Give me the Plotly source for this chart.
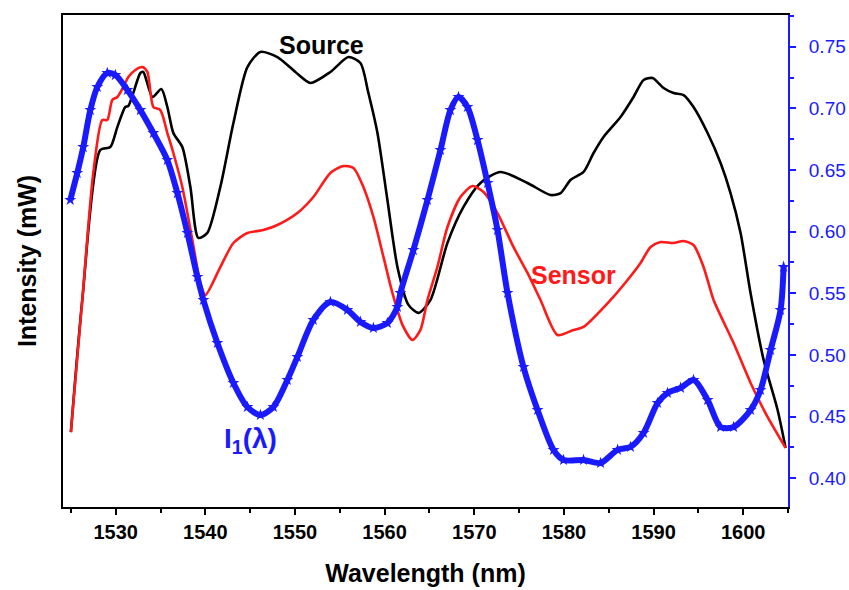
import plotly.graph_objects as go

# Source (black)
src_x = [1525.0, 1526.27, 1528.28, 1529.40, 1530.18, 1531.07, 1531.41, 1531.96, 1532.75, 1533.08,
         1534.1, 1535.09, 1535.76, 1536.43, 1537.43, 1538.33, 1539.22, 1540.22, 1541.67, 1543.13,
         1544.69, 1546.14, 1548.04, 1550.04, 1551.72, 1553.95, 1555.96, 1557.30, 1558.19, 1559.20,
         1560.31, 1561.43, 1562.66, 1563.78, 1565.12, 1567.01, 1568.80, 1570.69, 1572.93, 1575.94,
         1578.51, 1579.63, 1580.74, 1582.19, 1583.31, 1584.42, 1586.32, 1587.77, 1588.89, 1589.89,
         1591.12, 1592.23, 1593.35, 1594.46, 1596.03, 1597.48, 1598.59, 1599.71, 1600.82, 1602.28,
         1603.84, 1604.73]
src_y = [0.4375, 0.5445, 0.6662, 0.6686, 0.6848, 0.7011, 0.7019, 0.7124, 0.7287, 0.7295,
         0.7092, 0.7157, 0.7011, 0.6800, 0.6686, 0.6362, 0.5949, 0.5990, 0.6362, 0.6881,
         0.7335, 0.7457, 0.7416, 0.7295, 0.7206, 0.7295, 0.7416, 0.7368, 0.7124, 0.6800,
         0.6257, 0.5714, 0.5406, 0.5341, 0.5447, 0.5909, 0.6201, 0.6395, 0.6484, 0.6395,
         0.6297, 0.6313, 0.6419, 0.6484, 0.6638, 0.6768, 0.6930, 0.7092, 0.7230, 0.7246,
         0.7165, 0.7124, 0.7108, 0.7011, 0.6800, 0.6557, 0.6313, 0.5989, 0.5503, 0.4960,
         0.4554, 0.4246]

# Sensor (red)
sen_x = [1525.0, 1526.27, 1527.50, 1528.50, 1529.06, 1529.62, 1530.18, 1530.85, 1531.41, 1532.19,
         1532.97, 1533.53, 1534.20, 1534.98, 1535.76, 1536.43, 1537.43, 1538.55, 1539.44, 1540.00,
         1541.67, 1543.13, 1544.69, 1546.47, 1548.04, 1550.27, 1552.05, 1553.95, 1555.40, 1556.52,
         1557.63, 1558.75, 1559.87, 1560.87, 1561.99, 1563.10, 1564.0, 1564.78, 1565.89, 1567.01,
         1568.46, 1569.80, 1571.03, 1572.59, 1574.37, 1575.94, 1577.39, 1579.29, 1581.08, 1582.19,
         1585.21, 1587.10, 1588.55, 1589.67, 1590.78, 1592.23, 1593.35, 1594.46, 1595.58, 1596.70,
         1598.93, 1600.83, 1602.72, 1604.73]
sen_y = [0.4375, 0.5445, 0.6476, 0.6905, 0.6905, 0.7068, 0.7092, 0.7173, 0.7254, 0.7311,
         0.7335, 0.7295, 0.7011, 0.6986, 0.6800, 0.6638, 0.6362, 0.5932, 0.5584, 0.5486,
         0.5713, 0.5908, 0.5989, 0.6013, 0.6054, 0.6151, 0.6281, 0.6476, 0.6532, 0.6516,
         0.6362, 0.6119, 0.5795, 0.5503, 0.5244, 0.5122, 0.5203, 0.5446, 0.5714, 0.6038,
         0.6281, 0.6370, 0.6322, 0.6151, 0.5876, 0.5665, 0.5446, 0.5162, 0.5203, 0.5227,
         0.5446, 0.5608, 0.5746, 0.5876, 0.5916, 0.5908, 0.5924, 0.5892, 0.5714, 0.5446,
         0.5097, 0.4773, 0.4497, 0.4246]

# I1(lambda) (blue, right axis)
i1_x = [1524.93, 1525.71, 1526.38, 1527.17, 1527.95, 1529.06, 1529.96, 1531.30, 1532.75, 1534.20,
        1535.76, 1536.88, 1538.00, 1539.11, 1539.78, 1541.34, 1543.13, 1544.69, 1546.14, 1547.59,
        1549.15, 1550.27, 1552.05, 1553.95, 1555.85, 1557.30, 1558.75, 1560.31, 1561.43, 1561.76,
        1563.21, 1564.78, 1566.23, 1567.34, 1568.24, 1569.24, 1570.36, 1571.48, 1572.59, 1573.71,
        1575.49, 1577.06, 1578.84, 1579.96, 1582.19, 1584.09, 1585.99, 1587.43, 1588.89, 1590.45,
        1591.56, 1593.02, 1594.46, 1596.03, 1597.48, 1598.93, 1600.83, 1601.94, 1603.06, 1604.17,
        1604.51]
i1_y = [0.6257, 0.6476, 0.6686, 0.6986, 0.7173, 0.7287, 0.7270, 0.7149, 0.6986, 0.6800,
        0.6581, 0.6313, 0.5989, 0.5633, 0.5446, 0.5097, 0.4773, 0.4578, 0.4513, 0.4578,
        0.4797, 0.4984, 0.5284, 0.5430, 0.5365, 0.5268, 0.5219, 0.5259, 0.5389, 0.5503,
        0.5851, 0.6257, 0.6662, 0.6986, 0.7092, 0.7011, 0.6743, 0.6395, 0.6014, 0.5503,
        0.4903, 0.4554, 0.4230, 0.4148, 0.4148, 0.4124, 0.4230, 0.4254, 0.4368, 0.4611,
        0.4692, 0.4733, 0.4797, 0.4635, 0.4416, 0.4416, 0.4554, 0.4716, 0.5041, 0.5365,
        0.5714]

x_ticks = [1530, 1540, 1550, 1560, 1570, 1580, 1590, 1600]
y2_ticks = [0.40, 0.45, 0.50, 0.55, 0.60, 0.65, 0.70, 0.75]
y2_labels = ["0.40", "0.45", "0.50", "0.55", "0.60", "0.65", "0.70", "0.75"]

FONT = "Liberation Sans, Arial, sans-serif"
BLUE = "#1a1aff"
RED = "#ff1a1a"

fig = go.Figure()
fig.add_trace(go.Scatter(x=src_x, y=src_y, mode="lines",
                         line=dict(color="black", width=2.6, shape="spline", smoothing=0.7),
                         name="Source"))
fig.add_trace(go.Scatter(x=sen_x, y=sen_y, mode="lines",
                         line=dict(color=RED, width=2.6, shape="spline", smoothing=0.7),
                         name="Sensor"))
fig.add_trace(go.Scatter(x=i1_x, y=i1_y, mode="lines+markers", yaxis="y2",
                         line=dict(color=BLUE, width=6, shape="spline", smoothing=0.8),
                         marker=dict(symbol="star", size=9, color=BLUE),
                         name="I1"))

yr = [0.3767, 0.7757]
fig.update_layout(
    width=849, height=590,
    margin=dict(l=63, r=61, t=15, b=83),
    paper_bgcolor="white", plot_bgcolor="white",
    showlegend=False,
    font=dict(family=FONT, color="black"),
    xaxis=dict(range=[1524.12, 1605], showgrid=False, zeroline=False, automargin=False,
               showline=True, linecolor="black", linewidth=2, mirror=True,
               ticks="outside", ticklen=6, tickwidth=2, tickcolor="black",
               tickvals=x_ticks,
               minor=dict(ticks="outside", ticklen=4, tickwidth=2, tickcolor="black", dtick=5, tick0=1525),
               tickfont=dict(size=20, weight="bold", family=FONT),
               title=dict(text="Wavelength (nm)", font=dict(size=25, weight="bold", family=FONT), standoff=22)),
    yaxis=dict(range=yr, showgrid=False, zeroline=False, showline=True, linecolor="black", linewidth=2,
               showticklabels=False, ticks="", automargin=False,
               title=dict(text="Intensity (mW)", font=dict(size=25, weight="bold", family=FONT), standoff=17)),
    yaxis2=dict(range=yr, overlaying="y", side="right", showgrid=False, zeroline=False, automargin=False,
                showline=True, linecolor=BLUE, linewidth=2,
                ticks="outside", ticklen=6, tickwidth=2, tickcolor=BLUE,
                tickvals=y2_ticks, ticktext=y2_labels, ticklabelstandoff=9,
                minor=dict(ticks="outside", ticklen=4, tickwidth=2, tickcolor=BLUE, dtick=0.025, tick0=0.375),
                tickfont=dict(size=19, color=BLUE, family=FONT)),
    annotations=[
        dict(x=1553.0, y=0.7514, xref="x", yref="y", text="<b>Source</b>", showarrow=False,
             font=dict(size=25, color="black", family=FONT)),
        dict(x=1581.1, y=0.5650, xref="x", yref="y", text="<b>Sensor</b>", showarrow=False,
             font=dict(size=25, color=RED, family=FONT)),
        dict(x=1545.0, y=0.4310, xref="x", yref="y", text="<b>I<sub>1</sub>(λ)</b>", showarrow=False,
             font=dict(size=28, color=BLUE, family=FONT)),
    ],
)

fig.write_html("out.html")
